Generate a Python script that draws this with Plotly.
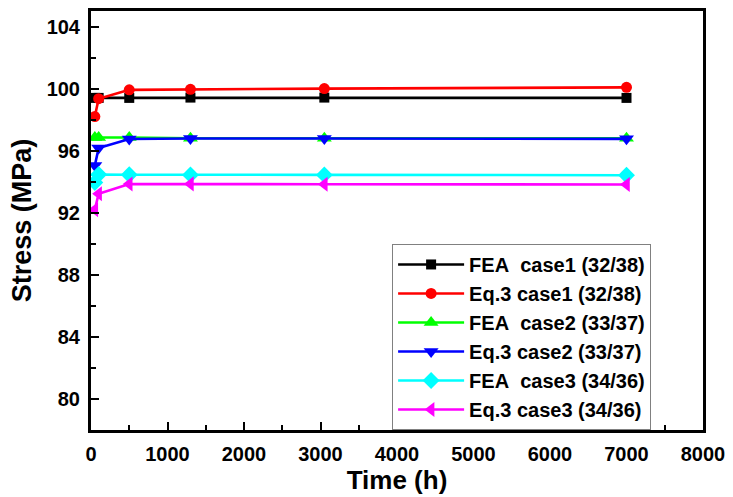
import plotly.graph_objects as go

# Data
names = ["FEA\u00a0\u00a0case1 (32/38)", "Eq.3 case1 (32/38)", "FEA\u00a0\u00a0case2 (33/37)",
         "Eq.3 case2 (33/37)", "FEA\u00a0\u00a0case3 (34/36)", "Eq.3 case3 (34/36)"]
time_h = [50, 100, 500, 1300, 3050, 7000]
fea_case1 = [99.40, 99.40, 99.40, 99.42, 99.42, 99.40]
eq3_case1 = [98.20, 99.35, 99.92, 99.95, 100.00, 100.08]
fea_case2 = [96.85, 96.85, 96.85, 96.80, 96.80, 96.80]
eq3_case2 = [95.05, 96.17, 96.75, 96.78, 96.78, 96.76]
fea_case3 = [93.95, 94.46, 94.45, 94.44, 94.44, 94.42]
eq3_case3 = [92.20, 93.22, 93.85, 93.86, 93.84, 93.82]

series = [fea_case1, eq3_case1, fea_case2, eq3_case2, fea_case3, eq3_case3]
colors = ["#000000", "#FF0000", "#00FF00", "#0000FF", "#00FFFF", "#FF00FF"]
symbols = ["square", "circle", "triangle-up", "triangle-down", "diamond", "triangle-left"]
sizes = [10, 11, 13, 13, 13, 13]

x_ticks = [0, 1000, 2000, 3000, 4000, 5000, 6000, 7000, 8000]
y_ticks = [80, 84, 88, 92, 96, 100, 104]

fig = go.Figure()
for name, ys, c, s, sz in zip(names, series, colors, symbols, sizes):
    fig.add_trace(go.Scatter(
        x=time_h, y=ys, name=name, mode="lines+markers",
        line=dict(color=c, width=2.6),
        marker=dict(symbol=s, size=sz, color=c, line=dict(width=0)),
    ))

font_family = "Liberation Sans, Arial, sans-serif"
axis_common = dict(
    showline=True, linewidth=3, linecolor="black", mirror=True,
    ticks="inside", ticklen=8, tickwidth=2, tickcolor="black",
    showgrid=False, zeroline=False,
    tickfont=dict(family=font_family, size=20, color="black", weight="bold"),
)

fig.update_layout(
    width=733, height=497,
    margin=dict(l=91, r=26, t=8, b=63),
    paper_bgcolor="white", plot_bgcolor="white",
    font=dict(family=font_family, color="black"),
    xaxis=dict(
        range=[0, 8000], tickvals=x_ticks, ticktext=[str(v) for v in x_ticks],
        minor=dict(dtick=500, tick0=0, ticks="inside", ticklen=5, tickwidth=2, tickcolor="black"),
        title=dict(text="Time (h)", font=dict(family=font_family, size=26, weight="bold"), standoff=6),
        ticklabelstandoff=4,
        **axis_common,
    ),
    yaxis=dict(
        range=[78, 105], tickvals=y_ticks, ticktext=[str(v) for v in y_ticks],
        minor=dict(dtick=2, tick0=78, ticks="inside", ticklen=5, tickwidth=2, tickcolor="black"),
        title=dict(text="Stress (MPa)", font=dict(family=font_family, size=27, weight="bold"), standoff=8),
        ticklabelstandoff=4,
        **axis_common,
    ),
    legend=dict(
        x=0.492, y=0.444, xanchor="left", yanchor="top",
        bgcolor="white", bordercolor="#808080", borderwidth=1,
        font=dict(family=font_family, size=20, color="black", weight="bold"),
        itemwidth=66, tracegroupgap=0,
    ),
    showlegend=True,
)

fig.write_html("out.html")
